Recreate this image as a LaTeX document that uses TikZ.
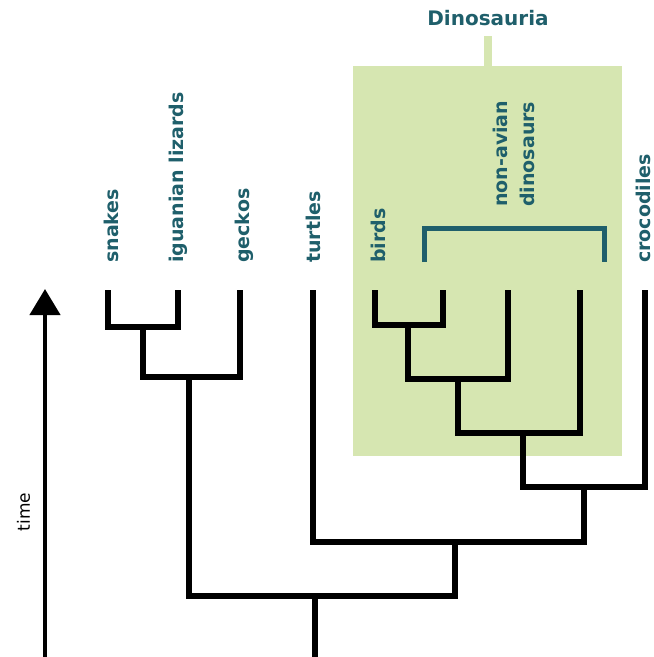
\documentclass[tikz,border=0pt]{standalone}
\usepackage{fontspec}
\setmainfont{DejaVu Sans}
\usetikzlibrary{arrows.meta}
\definecolor{tealc}{HTML}{1F5F6B}
\definecolor{dinogreen}{HTML}{D6E6B1}
\begin{document}
\begin{tikzpicture}[x=1pt,y=-1pt,
  branch/.style={line width=5.5pt, black},
  lab/.style={rotate=90, anchor=base west, inner sep=0pt, text=tealc,
              font=\bfseries\fontsize{19}{27}\selectfont},
  bracketline/.style={line width=5pt, tealc}]
\useasboundingbox (0,0) rectangle (654,657);
% Dinosauria box
\fill[dinogreen] (353,66) rectangle (622,456);
\fill[dinogreen] (484,36) rectangle (492,67);
\node[font=\bfseries\fontsize{20}{24}\selectfont, text=tealc] (title) at (488,18) {Dinosauria};
% tips
\coordinate (tS) at (108,290);
\coordinate (tI) at (178,290);
\coordinate (tG) at (240,290);
\coordinate (tT) at (313,290);
\coordinate (tB) at (375,290);
\coordinate (td1) at (443,290);
\coordinate (td2) at (508,290);
\coordinate (td3) at (580,290);
\coordinate (tC) at (645,290);
% internal nodes
\coordinate (n1) at (143,327);
\coordinate (n2) at (189,377);
\coordinate (n3) at (315,596);
\coordinate (n4) at (455,542);
\coordinate (n5) at (584,487);
\coordinate (n6) at (523,433);
\coordinate (n7) at (458,379);
\coordinate (n8) at (408,325);
\coordinate (root) at (315,657);
% branches
\draw[branch] (tS) |- (n1) -| (tI);
\draw[branch] (n1) |- (n2) -| (tG);
\draw[branch] (n2) |- (n3) -| (n4);
\draw[branch] (n3) -- (root);
\draw[branch] (tT) |- (n4) -| (n5);
\draw[branch] (n6) |- (n5) -| (tC);
\draw[branch] (n7) |- (n6) -| (td3);
\draw[branch] (n8) |- (n7) -| (td2);
\draw[branch] (tB) |- (n8) -| (td1);
% labels
\node[lab] (snakes) at (118,263) {snakes};
\node[lab] (iguan) at (183,263) {iguanian lizards};
\node[lab] (geckos) at (249,263) {geckos};
\node[lab] (turtles) at (320,263) {turtles};
\node[lab] (birds) at (385,263) {birds};
\node[lab, anchor=south west, align=left] (nonav) at (535,207) {non-avian\\dinosaurs};
\node[lab] (croc) at (650,263) {crocodiles};
% bracket
\coordinate (b1) at (424,262);
\coordinate (bm) at (514,228);
\coordinate (b2) at (604,262);
\draw[bracketline] (b1) |- (bm) -| (b2);
% time arrow
\coordinate (a0) at (45,657);
\coordinate (a1) at (45,289);
\draw[line width=4.5pt, -{Triangle[width=30pt,length=26pt]}] (a0) -- (a1);
\node[rotate=90, anchor=base, inner sep=0pt, font=\fontsize{17}{20}\selectfont] (time) at (30,512) {time};
\end{tikzpicture}
\end{document}
